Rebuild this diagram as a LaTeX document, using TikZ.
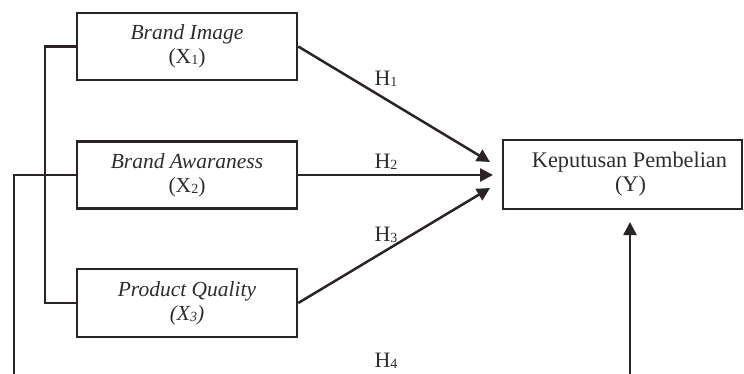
\documentclass[tikz,border=0pt]{standalone}
\usepackage{fontspec}
\setmainfont{Liberation Serif}
\usetikzlibrary{arrows.meta}
\definecolor{lc}{RGB}{42,36,36}
\definecolor{tc}{RGB}{45,45,45}
\newcommand{\subd}[1]{\raisebox{-1pt}{\fontsize{14}{14}\selectfont #1}}
\begin{document}
\begin{tikzpicture}[x=1pt,y=-1pt,
  box/.style={draw=lc, line width=2.5pt, minimum width=220pt, minimum height=67pt,
    inner sep=0pt, align=center, text=tc, font=\fontsize{21.5}{24}\selectfont},
  conn/.style={draw=lc, line width=2.5pt},
  arr/.style={conn, -{Triangle[length=13pt,width=13pt]}},
  hl/.style={inner sep=0pt, text=tc, font=\fontsize{22}{22}\selectfont}]
\useasboundingbox (0,0) rectangle (744,374);
\node[box] (bi) at (187,46.5) {\textit{Brand Image}\\(X\subd{1})};
\node[box] (ba) at (187,175) {\textit{Brand Awaraness}\\(X\subd{2})};
\node[box, minimum height=68pt] (pq) at (187,303) {\textit{Product Quality}\\\textit{(X\subd{3})}};
\node[box, minimum width=239pt, minimum height=69pt, font=\fontsize{22.3}{24}\selectfont] (y) at (622.5,174.5)
  {\hspace*{14pt}Keputusan Pembelian\\\hspace*{16pt}(Y)};
\coordinate (t1) at (490,162);
\coordinate (t2) at (493,175);
\coordinate (t3) at (490,188);
\coordinate (b1) at (45,46.5);
\coordinate (b2) at (45,303);
\coordinate (c1) at (14,175);
\coordinate (c2) at (14,375.2);
\coordinate (c3) at (630,375.2);
\coordinate (t4) at (630,222);
\draw[conn] (bi.west) -- (b1) -- (b2) -- (pq.west);
\draw[conn] (ba.west) -- (c1) -- (c2) -- (c3);
\draw[arr] (c3) -- (t4);
\draw[arr] (bi.east) -- (t1);
\draw[arr] (ba.east) -- (t2);
\draw[arr] (pq.east) -- (t3);
\node[hl] (h1) at (386,79) {H\subd{1}};
\node[hl] (h2) at (386,162) {H\subd{2}};
\node[hl] (h3) at (386,235) {H\subd{3}};
\node[hl] (h4) at (386,361) {H\subd{4}};
\end{tikzpicture}
\end{document}
